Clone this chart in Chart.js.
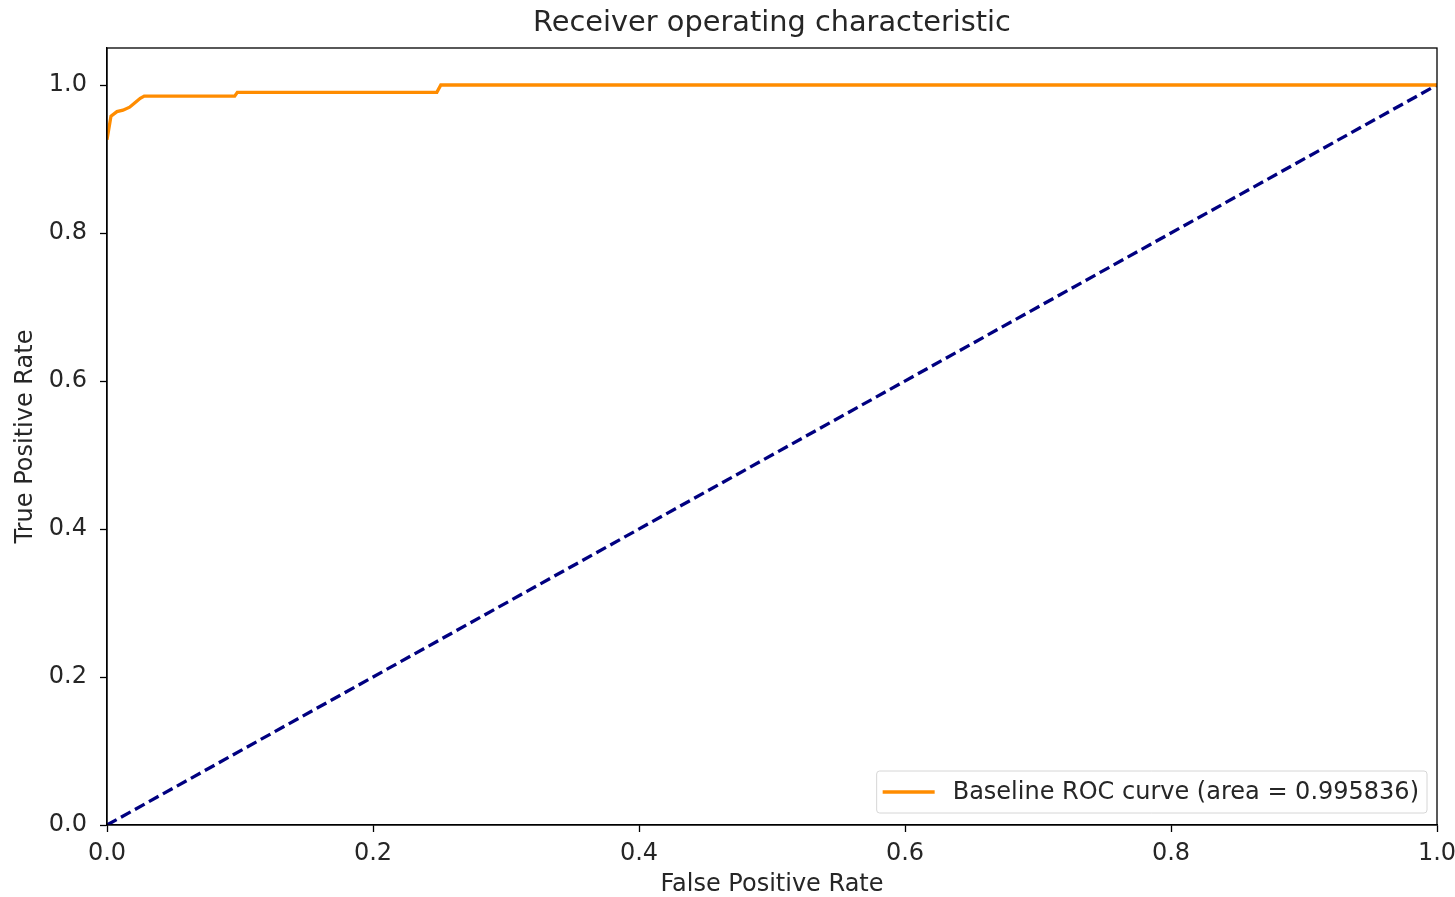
<!DOCTYPE html>
<html>
<head>
<meta charset="utf-8">
<script src="https://cdn.jsdelivr.net/npm/chart.js@4/dist/chart.umd.min.js"></script>
<style>
  html, body { margin: 0; padding: 0; background: #fff; }
  #wrap { width: 1455px; height: 897px; }
</style>
</head>
<body>
<div id="wrap"><canvas id="roc"></canvas></div>
<script>
// ROC points (false positive rate / true positive rate)
const fpr = [0, 0.003, 0.0075, 0.012, 0.017, 0.021, 0.025, 0.028, 0.096, 0.098, 0.248, 0.251, 1.0];
const tpr = [0.926, 0.958, 0.964, 0.966, 0.970, 0.976, 0.982, 0.985, 0.985, 0.990, 0.990, 1.0, 1.0];
const chanceX = [0, 1];
const chanceY = [0, 1];
const rocLabel = 'Baseline ROC curve (area = 0.995836)';
const chartTitle = 'Receiver operating characteristic';
const xTicks = [0, 0.2, 0.4, 0.6, 0.8, 1.0];
const yTicks = [0, 0.2, 0.4, 0.6, 0.8, 1.0];

const FONT = 'DejaVu Sans';
const TEXT = '#262626';

const toPoints = (xs, ys) => xs.map((x, i) => ({ x: x, y: ys[i] }));

// title centred over the axes, box around them, legend in the lower right corner
const frameAndLegend = {
    id: 'frameAndLegend',
    afterDraw(chart) {
        const ctx = chart.ctx;
        const a = chart.chartArea;
        ctx.save();
        ctx.fillStyle = TEXT;
        ctx.font = '28.8px "' + FONT + '"';
        ctx.textAlign = 'center';
        ctx.textBaseline = 'middle';
        ctx.fillText(chartTitle, (a.left + a.right) / 2, 24);

        ctx.strokeStyle = '#000';
        ctx.lineWidth = 1.3;
        ctx.strokeRect(a.left, a.top, a.right - a.left, a.bottom - a.top);

        const ds = chart.data.datasets[0];
        ctx.font = '24px "' + FONT + '"';
        ctx.textAlign = 'left';
        const tw = ctx.measureText(ds.label).width;
        const h = 42;
        const w = 76 + tw + 8;
        const x0 = a.right - 10 - w;
        const y0 = a.bottom - 12 - h;
        ctx.fillStyle = 'rgba(255,255,255,0.8)';
        ctx.strokeStyle = '#d6d6d6';
        ctx.lineWidth = 1;
        ctx.beginPath();
        ctx.roundRect(x0, y0, w, h, 3);
        ctx.fill();
        ctx.stroke();
        ctx.strokeStyle = ds.borderColor;
        ctx.lineWidth = ds.borderWidth;
        ctx.beginPath();
        ctx.moveTo(x0 + 6, y0 + h / 2);
        ctx.lineTo(x0 + 58, y0 + h / 2);
        ctx.stroke();
        ctx.fillStyle = TEXT;
        ctx.fillText(ds.label, x0 + 76, y0 + h / 2 + 1);
        ctx.restore();
    }
};

new Chart(document.getElementById('roc'), {
    type: 'scatter',
    data: {
        datasets: [
            {
                label: rocLabel,
                data: toPoints(fpr, tpr),
                showLine: true,
                borderColor: '#ff8c00',
                borderWidth: 3.3,
                pointRadius: 0,
                tension: 0
            },
            {
                label: 'chance',
                data: toPoints(chanceX, chanceY),
                showLine: true,
                borderColor: '#000080',
                borderWidth: 3.3,
                borderDash: [11, 5],
                pointRadius: 0
            }
        ]
    },
    options: {
        responsive: true,
        maintainAspectRatio: false,
        animation: false,
        layout: { padding: { left: 0, right: 18, top: 48, bottom: 0 } },
        plugins: {
            legend: { display: false },
            tooltip: { enabled: false },
            title: { display: false }
        },
        scales: {
            x: {
                type: 'linear',
                min: 0,
                max: 1,
                afterBuildTicks: s => { s.ticks = xTicks.map(v => ({ value: v })); },
                afterFit: s => { s.height = 72; s.paddingLeft = 0; s.paddingRight = 0; },
                grid: { drawOnChartArea: false, tickLength: 7, tickColor: '#000', tickWidth: 1.3 },
                border: { display: true, color: '#000', width: 1.3 },
                ticks: {
                    color: TEXT,
                    padding: 7,
                    maxRotation: 0,
                    font: { family: FONT, size: 24 },
                    callback: v => v.toFixed(1)
                },
                title: {
                    display: true,
                    text: 'False Positive Rate',
                    color: TEXT,
                    font: { family: FONT, size: 24, lineHeight: 1.05 },
                    padding: { top: 0, bottom: 0 }
                }
            },
            y: {
                type: 'linear',
                min: 0,
                max: 1.05,
                afterBuildTicks: s => { s.ticks = yTicks.map(v => ({ value: v })); },
                afterFit: s => { s.width = 107; s.paddingTop = 0; s.paddingBottom = 0; },
                grid: { drawOnChartArea: false, tickLength: 7, tickColor: '#000', tickWidth: 1.3 },
                border: { display: true, color: '#000', width: 1.3 },
                ticks: {
                    color: TEXT,
                    padding: 13,
                    font: { family: FONT, size: 24 },
                    callback: v => v.toFixed(1)
                },
                title: {
                    display: true,
                    text: 'True Positive Rate',
                    color: TEXT,
                    font: { family: FONT, size: 24 },
                    padding: { top: 11, bottom: 0 }
                }
            }
        }
    },
    plugins: [frameAndLegend]
});
</script>
</body>
</html>
